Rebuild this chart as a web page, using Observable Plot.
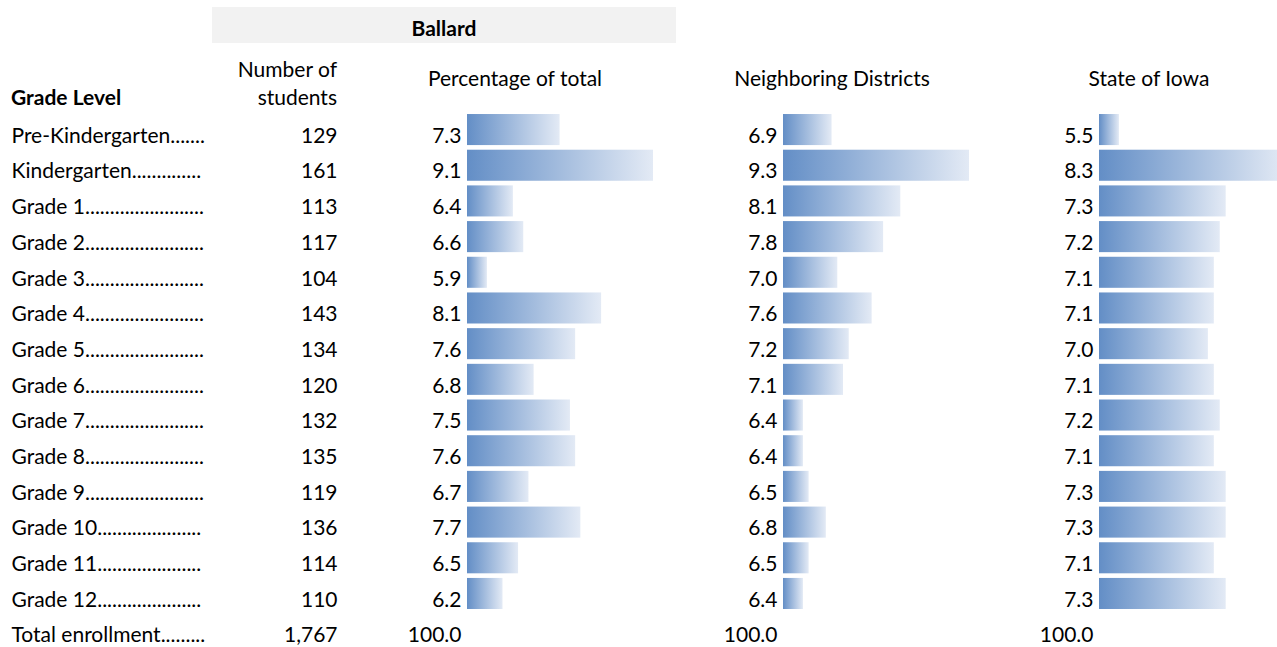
<!DOCTYPE html>
<html><head><meta charset="utf-8">
<script src="https://cdn.jsdelivr.net/npm/d3@7"></script>
<script src="https://cdn.jsdelivr.net/npm/@observablehq/plot@0.6"></script>
<style>
html,body{margin:0;padding:0;background:#fff;}
#chart{position:relative;width:1277px;height:647px;overflow:hidden;font-family:Lato,sans-serif;color:#000;}
#chart svg{position:absolute;top:0;left:0;max-width:none !important;}
.hdr{position:absolute;font-size:21px;line-height:25.2px;white-space:nowrap;}
.b{font-weight:700;}
#gray{position:absolute;left:212px;top:7px;width:464px;height:36px;background:#F2F2F2;}
</style></head><body><div id="chart">
<div id="gray"></div>
<div class="hdr b" style="left:212px;width:464px;text-align:center;top:15.3px">Ballard</div>
<div class="hdr" style="right:940px;text-align:right;top:56px">Number of</div>
<div class="hdr" style="right:940px;text-align:right;top:83.6px">students</div>
<div class="hdr b" style="left:11px;top:84.3px">Grade Level</div>
<div class="hdr" style="left:415px;width:200px;text-align:center;top:65.3px">Percentage of total</div>
<div class="hdr" style="left:732px;width:200px;text-align:center;top:65.3px">Neighboring Districts</div>
<div class="hdr" style="left:1049px;width:200px;text-align:center;top:65.3px">State of Iowa</div>
</div>
<script>
const grades = ["Pre-Kindergarten","Kindergarten","Grade 1","Grade 2","Grade 3","Grade 4","Grade 5","Grade 6","Grade 7","Grade 8","Grade 9","Grade 10","Grade 11","Grade 12"];
const students = [129,161,113,117,104,143,134,120,132,135,119,136,114,110];
const ballardPct = [7.3,9.1,6.4,6.6,5.9,8.1,7.6,6.8,7.5,7.6,6.7,7.7,6.5,6.2];
const neighborPct = [6.9,9.3,8.1,7.8,7.0,7.6,7.2,7.1,6.4,6.4,6.5,6.8,6.5,6.4];
const iowaPct = [5.5,8.3,7.3,7.2,7.1,7.1,7.0,7.1,7.2,7.1,7.3,7.3,7.1,7.3];
const totalLabel = "Total enrollment";
const totalStudents = 1767;
const totalPct = 100.0;

const rows = [...grades, totalLabel];
const chart = document.getElementById("chart");
const FONT = {fontFamily: "Lato, sans-serif", fontSize: "21px", color: "#000", background: "transparent", overflow: "visible", maxWidth: "none"};
const yScale = {type: "band", domain: rows, range: [111.7, 647], paddingInner: 0.13, paddingOuter: 0.065, round: false, axis: null};

// dot leaders that fill the label cell
const ctx = document.createElement("canvas").getContext("2d");
ctx.font = "21px Lato";
function withDots(s, maxW) {
  let t = s;
  while (ctx.measureText(t + ".").width <= maxW) t += ".";
  return t;
}

// Row labels
const labelData = rows.map(g => ({grade: g, t: withDots(g, 194)}));
chart.appendChild(Plot.plot({
  width: 212, height: 647, marginLeft: 11, marginRight: 6, marginTop: 0, marginBottom: 0,
  style: FONT, y: yScale, x: {axis: null},
  marks: [Plot.text(labelData, {y: "grade", text: "t", frameAnchor: "left", textAnchor: "start", dy: 6, fill: "#000"})]
}));

// Number of students
const numData = [...grades.map((g, i) => ({grade: g, n: students[i]})), {grade: totalLabel, n: totalStudents}];
chart.appendChild(Plot.plot({
  width: 340, height: 647, marginLeft: 0, marginRight: 3, marginTop: 0, marginBottom: 0,
  style: FONT, y: yScale, x: {axis: null},
  marks: [Plot.text(numData, {y: "grade", text: d => d3.format(",")(d.n), frameAnchor: "right", textAnchor: "end", dy: 6, fill: "#000"})]
}));

// Data-bar columns
function barColumn(values, barStart, id) {
  const lo0 = d3.min(values), hi = d3.max(values);
  const lo = lo0 - (hi - lo0) * 0.12;
  const data = grades.map((g, i) => ({grade: g, v: values[i]}));
  const textData = [...data.map(d => ({grade: d.grade, t: d.v.toFixed(1)})), {grade: totalLabel, t: totalPct.toFixed(1)}];
  const svg = Plot.plot({
    width: barStart + 186, height: 647, marginLeft: barStart, marginRight: 0, marginTop: 0, marginBottom: 0,
    style: FONT, y: yScale, x: {domain: [lo, hi], axis: null},
    marks: [
      Plot.barX(data, {x1: lo, x2: "v", y: "grade", fill: `url(#${id})`}),
      Plot.text(textData, {y: "grade", text: "t", frameAnchor: "left", textAnchor: "end", dx: -6, dy: 6, fill: "#000"})
    ]
  });
  const defs = d3.select(svg).insert("defs", ":first-child");
  const lg = defs.append("linearGradient").attr("id", id).attr("x1", "0").attr("x2", "1").attr("y1", "0").attr("y2", "0");
  lg.append("stop").attr("offset", "0").attr("stop-color", "#638EC6");
  lg.append("stop").attr("offset", "1").attr("stop-color", "#E3EAF5");
  chart.appendChild(svg);
}
barColumn(ballardPct, 467, "gBallard");
barColumn(neighborPct, 783, "gNeighbor");
barColumn(iowaPct, 1099, "gIowa");
</script>
</body></html>
